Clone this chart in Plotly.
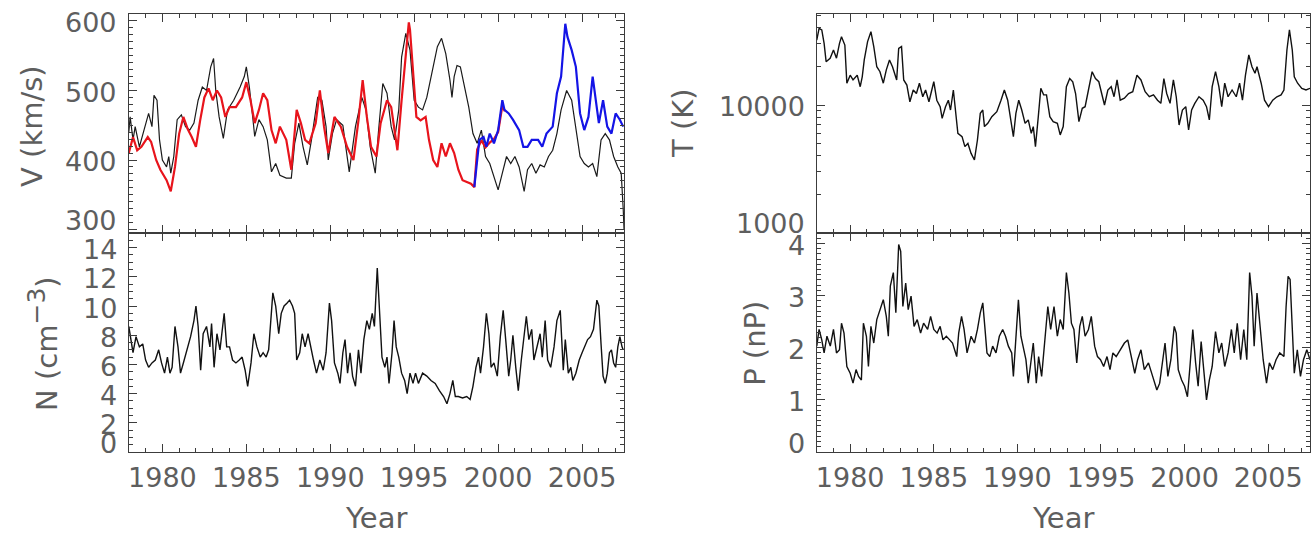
import math
import plotly.graph_objects as go

# ---------------------------------------------------------------
# Solar wind time series, 1978-2007 (year, value) pairs
# ---------------------------------------------------------------

# Solar wind speed V (km/s): black trace
v_black = [
    (1978.0, 440), (1978.08, 462), (1978.25, 429), (1978.38, 448), (1978.63, 419),
    (1979.0, 453), (1979.18, 467), (1979.38, 448), (1979.5, 493), (1979.68, 486),
    (1979.83, 429), (1980.0, 400), (1980.25, 390), (1980.38, 405), (1980.5, 381),
    (1980.68, 405), (1980.88, 458), (1981.13, 465), (1981.38, 448), (1981.63, 443),
    (1981.88, 453), (1982.13, 486), (1982.38, 505), (1982.63, 500), (1982.88, 534),
    (1983.05, 546), (1983.18, 500), (1983.38, 462), (1983.63, 431), (1983.88, 472),
    (1984.25, 486), (1984.63, 505), (1984.88, 520), (1985.0, 534), (1985.18, 505),
    (1985.38, 462), (1985.5, 434), (1985.75, 458), (1986.0, 448), (1986.25, 429),
    (1986.5, 383), (1986.75, 395), (1987.0, 378), (1987.38, 374), (1987.68, 374),
    (1987.88, 424), (1988.13, 453), (1988.38, 419), (1988.63, 393), (1988.88, 429),
    (1989.25, 490), (1989.5, 486), (1989.75, 448), (1989.88, 400), (1990.13, 438),
    (1990.38, 458), (1990.75, 450), (1991.13, 383), (1991.5, 448), (1991.88, 490),
    (1992.13, 472), (1992.38, 419), (1992.68, 381), (1992.88, 443), (1993.13, 510),
    (1993.38, 496), (1993.63, 448), (1993.83, 429), (1994.08, 472), (1994.25, 548),
    (1994.5, 582), (1994.75, 558), (1995.0, 486), (1995.25, 476), (1995.5, 472),
    (1995.75, 490), (1996.13, 534), (1996.38, 563), (1996.63, 575), (1996.88, 553),
    (1997.13, 515), (1997.25, 490), (1997.38, 520), (1997.55, 536), (1997.75, 534),
    (1998.0, 505), (1998.25, 476), (1998.5, 438), (1998.75, 424), (1999.0, 443),
    (1999.25, 405), (1999.5, 395), (1999.75, 376), (2000.0, 357), (2000.25, 381),
    (2000.5, 405), (2000.75, 395), (2001.0, 405), (2001.25, 390), (2001.55, 355),
    (2001.75, 386), (2002.0, 395), (2002.25, 381), (2002.5, 393), (2002.75, 390),
    (2003.0, 405), (2003.25, 414), (2003.5, 438), (2003.75, 472), (2004.08, 500),
    (2004.38, 486), (2004.63, 448), (2004.88, 405), (2005.13, 395), (2005.38, 390),
    (2005.63, 395), (2005.88, 376), (2006.13, 429), (2006.38, 438), (2006.63, 429),
    (2006.88, 405), (2007.13, 390), (2007.33, 381), (2007.45, 330), (2007.5, 300),
]

# Solar wind speed V (km/s): red trace
v_red = [
    (1978.0, 410), (1978.25, 433), (1978.5, 414), (1978.75, 419), (1979.13, 433),
    (1979.33, 426), (1979.63, 400), (1979.88, 386), (1980.25, 371), (1980.5, 355),
    (1980.75, 390), (1981.0, 438), (1981.25, 462), (1981.5, 445), (1981.75, 433),
    (1982.0, 419), (1982.25, 457), (1982.5, 490), (1982.75, 503), (1983.0, 486),
    (1983.25, 500), (1983.5, 490), (1983.75, 462), (1984.0, 476), (1984.38, 476),
    (1984.75, 490), (1985.0, 512), (1985.25, 486), (1985.5, 453), (1985.75, 472),
    (1986.0, 496), (1986.25, 486), (1986.5, 443), (1986.75, 424), (1987.0, 448),
    (1987.38, 429), (1987.68, 386), (1988.0, 472), (1988.25, 453), (1988.5, 429),
    (1988.75, 424), (1989.13, 453), (1989.38, 500), (1989.63, 448), (1989.88, 410),
    (1990.25, 462), (1990.63, 448), (1991.0, 419), (1991.38, 400), (1991.68, 457),
    (1991.93, 515), (1992.18, 462), (1992.43, 419), (1992.75, 405), (1993.0, 453),
    (1993.38, 486), (1993.63, 476), (1994.0, 414), (1994.25, 486), (1994.5, 553),
    (1994.68, 598), (1994.75, 587), (1994.93, 534), (1995.13, 462), (1995.38, 457),
    (1995.68, 462), (1995.88, 429), (1996.13, 400), (1996.38, 390), (1996.63, 424),
    (1996.88, 405), (1997.13, 424), (1997.38, 410), (1997.63, 386), (1997.88, 371),
    (1998.13, 368), (1998.38, 366), (1998.58, 361), (1998.75, 415), (1999.0, 428),
    (1999.25, 418), (1999.5, 425), (1999.75, 430), (2000.0, 440), (2000.25, 478),
    (2000.4, 470),
]

# Solar wind speed V (km/s): blue trace
v_blue = [
    (1998.58, 361), (1998.75, 405), (1998.88, 429), (1999.13, 433), (1999.3, 419),
    (1999.5, 438), (1999.75, 424), (2000.0, 443), (2000.25, 486), (2000.38, 472),
    (2000.63, 467), (2000.88, 458), (2001.25, 443), (2001.5, 419), (2001.75, 419),
    (2002.0, 429), (2002.38, 429), (2002.63, 419), (2002.88, 438), (2003.25, 448),
    (2003.5, 496), (2003.75, 520), (2004.0, 596), (2004.13, 577), (2004.38, 558),
    (2004.63, 534), (2004.88, 467), (2005.13, 443), (2005.38, 462), (2005.63, 520),
    (2005.83, 486), (2006.0, 453), (2006.25, 486), (2006.5, 448), (2006.75, 438),
    (2007.0, 467), (2007.25, 458), (2007.45, 448),
]

# Proton density N (cm^-3)
n_series = [
    (1978.0, 8.6), (1978.13, 7.7), (1978.25, 6.8), (1978.43, 7.9), (1978.63, 7.2),
    (1978.83, 7.4), (1979.0, 6.3), (1979.18, 5.8), (1979.38, 6.1), (1979.58, 6.3),
    (1979.78, 7.0), (1979.95, 6.1), (1980.13, 5.4), (1980.3, 6.5), (1980.45, 5.4),
    (1980.58, 5.8), (1980.75, 8.6), (1980.93, 7.2), (1981.08, 5.4), (1981.25, 6.1),
    (1981.43, 6.8), (1981.68, 7.9), (1981.88, 9.0), (1982.0, 10.0), (1982.13, 8.6),
    (1982.28, 5.6), (1982.43, 8.1), (1982.63, 8.6), (1982.83, 7.2), (1982.93, 8.8),
    (1983.08, 5.8), (1983.25, 8.1), (1983.43, 7.0), (1983.55, 8.4), (1983.68, 9.5),
    (1983.83, 7.2), (1984.0, 7.2), (1984.18, 6.3), (1984.38, 6.1), (1984.58, 6.3),
    (1984.75, 6.5), (1984.93, 5.6), (1985.08, 4.5), (1985.28, 6.1), (1985.45, 8.1),
    (1985.63, 7.2), (1985.83, 6.5), (1986.0, 6.8), (1986.18, 6.5), (1986.33, 7.0),
    (1986.45, 9.0), (1986.58, 10.9), (1986.75, 10.0), (1986.93, 8.1), (1987.08, 9.5),
    (1987.25, 10.0), (1987.43, 10.2), (1987.58, 10.4), (1987.75, 10.0), (1987.88, 9.5),
    (1988.0, 6.3), (1988.18, 6.8), (1988.33, 8.1), (1988.5, 7.2), (1988.68, 8.1),
    (1988.83, 7.2), (1989.0, 6.3), (1989.18, 5.4), (1989.38, 6.3), (1989.58, 5.6),
    (1989.75, 6.8), (1989.95, 10.2), (1990.08, 9.0), (1990.25, 6.1), (1990.45, 5.4),
    (1990.58, 4.7), (1990.75, 6.8), (1990.88, 7.7), (1991.03, 5.4), (1991.18, 6.8),
    (1991.33, 5.2), (1991.5, 4.5), (1991.68, 7.0), (1991.83, 5.4), (1992.0, 7.7),
    (1992.18, 9.0), (1992.33, 8.4), (1992.5, 9.5), (1992.63, 8.6), (1992.8, 12.6),
    (1992.95, 9.0), (1993.08, 6.5), (1993.25, 5.8), (1993.38, 6.5), (1993.5, 4.7),
    (1993.68, 6.8), (1993.8, 9.0), (1993.93, 7.2), (1994.08, 6.5), (1994.25, 5.4),
    (1994.43, 4.9), (1994.58, 4.0), (1994.75, 5.4), (1994.93, 4.7), (1995.08, 5.4),
    (1995.25, 4.7), (1995.5, 5.4), (1995.75, 5.2), (1996.0, 4.9), (1996.25, 4.7),
    (1996.5, 4.2), (1996.75, 3.8), (1996.95, 3.3), (1997.13, 4.0), (1997.3, 4.9),
    (1997.45, 3.8), (1997.63, 3.8), (1997.88, 3.7), (1998.13, 3.8), (1998.33, 3.6),
    (1998.5, 4.5), (1998.68, 5.8), (1998.83, 6.5), (1998.95, 5.4), (1999.13, 7.2),
    (1999.3, 9.5), (1999.45, 8.1), (1999.58, 5.8), (1999.75, 6.1), (1999.95, 5.2),
    (2000.13, 7.9), (2000.3, 9.7), (2000.45, 7.7), (2000.63, 5.2), (2000.75, 6.3),
    (2000.88, 8.0), (2001.05, 5.8), (2001.2, 4.2), (2001.38, 6.3), (2001.5, 7.7),
    (2001.68, 9.3), (2001.83, 7.7), (2002.0, 8.4), (2002.13, 6.3), (2002.3, 7.2),
    (2002.5, 8.1), (2002.63, 6.5), (2002.8, 9.0), (2002.95, 6.3), (2003.13, 5.8),
    (2003.33, 7.2), (2003.5, 9.0), (2003.7, 9.7), (2003.88, 5.6), (2004.0, 7.7),
    (2004.18, 5.4), (2004.33, 5.8), (2004.45, 4.9), (2004.63, 5.4), (2004.83, 6.3),
    (2005.0, 6.8), (2005.13, 7.2), (2005.33, 7.7), (2005.5, 7.9), (2005.68, 8.4),
    (2005.88, 10.4), (2006.0, 10.0), (2006.13, 7.4), (2006.25, 5.2), (2006.38, 4.7),
    (2006.5, 5.4), (2006.63, 6.8), (2006.75, 7.0), (2006.88, 6.1), (2007.0, 5.8),
    (2007.13, 7.2), (2007.25, 7.9), (2007.38, 7.2), (2007.45, 7.0),
]

# Proton temperature T (K)
t_series = [
    (1978.0, 32200), (1978.14, 39700), (1978.3, 38600), (1978.44, 30300), (1978.56, 21800),
    (1978.8, 23200), (1979.0, 26900), (1979.18, 23200), (1979.36, 30300), (1979.48, 34200),
    (1979.68, 29400), (1979.8, 14800), (1980.0, 17100), (1980.17, 15700), (1980.42, 17100),
    (1980.6, 13900), (1980.72, 16600), (1980.84, 22500), (1981.04, 31300), (1981.24, 37400),
    (1981.41, 28600), (1981.59, 19900), (1981.78, 18200), (1981.98, 14800), (1982.16, 18800),
    (1982.35, 22500), (1982.53, 19900), (1982.78, 15700), (1982.9, 27700), (1983.07, 28600),
    (1983.2, 15700), (1983.39, 14300), (1983.57, 10600), (1983.77, 13100), (1983.96, 12300),
    (1984.14, 14800), (1984.34, 11600), (1984.51, 13100), (1984.71, 10600), (1984.88, 13100),
    (1985.0, 15200), (1985.18, 10900), (1985.38, 9700), (1985.5, 7870), (1985.7, 9700),
    (1985.87, 10900), (1986.0, 9140), (1986.17, 13100), (1986.29, 9700), (1986.44, 6010),
    (1986.69, 5660), (1986.86, 4730), (1987.04, 5010), (1987.23, 4190), (1987.43, 3720),
    (1987.61, 5330), (1987.78, 8610), (1987.93, 9140), (1988.03, 6780), (1988.23, 7190),
    (1988.47, 8110), (1988.77, 8870), (1989.02, 10900), (1989.22, 13100), (1989.42, 10900),
    (1989.59, 8110), (1989.76, 5660), (1989.91, 8610), (1990.08, 10900), (1990.26, 9140),
    (1990.46, 7190), (1990.65, 7640), (1990.83, 6010), (1990.95, 6780), (1991.08, 4730),
    (1991.25, 8110), (1991.4, 13500), (1991.57, 12000), (1991.74, 12000), (1991.94, 8110),
    (1992.14, 7410), (1992.39, 7190), (1992.56, 5840), (1992.74, 6780), (1992.93, 13900),
    (1993.13, 16100), (1993.31, 15200), (1993.48, 12300), (1993.68, 7410), (1993.88, 9420),
    (1994.05, 9700), (1994.25, 13100), (1994.47, 18200), (1994.67, 16100), (1994.87, 15200),
    (1995.04, 12300), (1995.21, 10000), (1995.41, 13100), (1995.61, 13900), (1995.78, 11600),
    (1995.96, 15700), (1996.15, 10900), (1996.4, 11300), (1996.65, 12300), (1996.9, 12700),
    (1997.15, 17100), (1997.39, 15700), (1997.64, 12700), (1997.89, 11600), (1998.14, 12000),
    (1998.38, 10900), (1998.58, 10300), (1998.76, 16100), (1998.93, 12300), (1999.13, 10300),
    (1999.33, 15700), (1999.5, 11600), (1999.67, 6980), (1999.87, 9140), (2000.07, 9700),
    (2000.24, 6380), (2000.42, 9140), (2000.61, 10300), (2000.86, 11600), (2001.11, 10900),
    (2001.31, 9700), (2001.48, 7640), (2001.65, 13900), (2001.85, 18200), (2002.05, 13900),
    (2002.22, 9700), (2002.4, 14800), (2002.6, 11600), (2002.84, 13100), (2003.09, 11600),
    (2003.29, 14800), (2003.46, 10900), (2003.64, 17100), (2003.84, 24600), (2004.03, 19900),
    (2004.21, 17700), (2004.33, 19900), (2004.58, 14800), (2004.78, 10900), (2005.02, 9700),
    (2005.27, 10900), (2005.52, 11600), (2005.77, 12000), (2005.94, 13100), (2006.12, 26900),
    (2006.27, 38600), (2006.44, 26900), (2006.56, 16600), (2006.76, 14800), (2007.01, 13500),
    (2007.26, 13100), (2007.5, 13500),
]

# Dynamic pressure P (nP)
p_series = [
    (1978.0, 2.03), (1978.14, 2.35), (1978.3, 2.15), (1978.44, 1.9), (1978.61, 2.22),
    (1978.81, 2.03), (1979.0, 2.35), (1979.18, 1.9), (1979.36, 1.96), (1979.48, 2.47),
    (1979.63, 2.28), (1979.8, 1.64), (1980.0, 1.51), (1980.17, 1.32), (1980.35, 1.58),
    (1980.5, 1.45), (1980.67, 1.38), (1980.79, 2.47), (1980.97, 2.22), (1981.09, 1.64),
    (1981.24, 2.41), (1981.41, 2.09), (1981.59, 2.54), (1981.78, 2.73), (1981.98, 2.92),
    (1982.16, 2.6), (1982.28, 2.22), (1982.4, 3.18), (1982.58, 3.44), (1982.73, 2.67),
    (1982.9, 3.98), (1983.02, 3.85), (1983.15, 2.79), (1983.32, 3.24), (1983.47, 2.73),
    (1983.64, 2.99), (1983.82, 2.41), (1984.01, 2.54), (1984.21, 2.28), (1984.39, 2.47),
    (1984.63, 2.35), (1984.81, 2.6), (1985.0, 2.35), (1985.2, 2.28), (1985.38, 2.41),
    (1985.55, 2.15), (1985.75, 2.22), (1985.95, 2.15), (1986.12, 2.09), (1986.37, 1.83),
    (1986.49, 2.28), (1986.66, 2.6), (1986.81, 2.35), (1986.99, 1.9), (1987.23, 2.22),
    (1987.43, 2.09), (1987.61, 2.35), (1987.78, 2.67), (1987.93, 2.86), (1988.05, 2.41),
    (1988.18, 1.9), (1988.35, 1.83), (1988.52, 2.03), (1988.72, 1.9), (1988.92, 2.22),
    (1989.12, 2.35), (1989.29, 2.22), (1989.46, 2.03), (1989.66, 1.9), (1989.76, 1.45),
    (1989.91, 2.22), (1990.06, 2.92), (1990.21, 2.22), (1990.36, 1.96), (1990.51, 1.77),
    (1990.65, 1.32), (1990.83, 1.77), (1990.95, 2.09), (1991.13, 1.32), (1991.27, 1.83),
    (1991.45, 1.45), (1991.65, 2.15), (1991.82, 2.79), (1991.99, 2.35), (1992.19, 2.79),
    (1992.39, 2.22), (1992.56, 2.54), (1992.74, 2.35), (1992.93, 3.44), (1993.08, 3.05),
    (1993.23, 2.47), (1993.38, 2.35), (1993.55, 1.71), (1993.73, 2.41), (1993.88, 2.6),
    (1994.05, 2.22), (1994.25, 2.35), (1994.42, 2.6), (1994.62, 2.03), (1994.79, 1.83),
    (1994.97, 1.77), (1995.16, 1.64), (1995.36, 1.83), (1995.54, 1.58), (1995.71, 1.9),
    (1995.91, 1.83), (1996.15, 1.96), (1996.4, 2.09), (1996.6, 2.15), (1996.77, 1.9),
    (1997.02, 1.51), (1997.19, 1.77), (1997.39, 1.96), (1997.59, 1.58), (1997.84, 1.71),
    (1998.09, 1.45), (1998.34, 1.19), (1998.51, 1.32), (1998.68, 1.77), (1998.83, 2.09),
    (1999.0, 1.45), (1999.18, 1.77), (1999.38, 2.41), (1999.5, 2.28), (1999.62, 1.58),
    (1999.82, 1.38), (2000.0, 1.26), (2000.17, 1.06), (2000.32, 1.64), (2000.49, 2.35),
    (2000.66, 1.71), (2000.81, 1.26), (2000.99, 2.12), (2001.16, 1.51), (2001.31, 1.0),
    (2001.48, 1.38), (2001.65, 1.64), (2001.85, 2.31), (2002.05, 1.9), (2002.22, 2.09),
    (2002.4, 1.64), (2002.6, 1.9), (2002.8, 2.35), (2002.97, 1.9), (2003.15, 2.47),
    (2003.35, 1.77), (2003.54, 2.35), (2003.72, 1.77), (2003.89, 3.44), (2004.03, 2.99),
    (2004.16, 2.03), (2004.33, 3.05), (2004.51, 2.35), (2004.7, 1.77), (2004.9, 1.32),
    (2005.07, 1.71), (2005.27, 1.58), (2005.47, 1.77), (2005.69, 1.9), (2005.94, 1.83),
    (2006.07, 2.79), (2006.19, 3.37), (2006.31, 3.31), (2006.44, 2.47), (2006.56, 1.51),
    (2006.74, 1.96), (2006.93, 1.45), (2007.11, 1.77), (2007.31, 1.96), (2007.5, 1.77),
]

# Axis tick labels
x_ticks = [1980, 1985, 1990, 1995, 2000, 2005]
v_ticks = [600, 500, 400, 300]
n_ticks = [14, 12, 10, 8, 6, 4, 2, 0]
t_ticks = [10000, 1000]
p_ticks = [4, 3, 2, 1, 0]

# ---------------------------------------------------------------
# Page geometry (pixels) and styling
# ---------------------------------------------------------------
W, H = 1311, 534
FRAME = "#3c3c3c"
LABEL = "#5e5e5e"
FONT = "DejaVu Sans"
TICK_SIZE = 27
TITLE_SIZE = 29


def fx(px):
    return px / W


def fy(py):
    return 1 - py / H


LEFT_DOM = [fx(128), fx(624)]
RIGHT_DOM = [fx(817), 1.0]
TOP_DOM = [fy(233), fy(14)]
BOT_DOM = [fy(452), fy(233)]

fig = go.Figure()


def add_line(series, xa, ya, color, width):
    xs = [p[0] for p in series]
    ys = [p[1] for p in series]
    fig.add_trace(go.Scatter(x=xs, y=ys, mode="lines", xaxis=xa, yaxis=ya,
                             line=dict(color=color, width=width),
                             showlegend=False, hoverinfo="skip"))


add_line(v_black, "x", "y", "#1a1a1a", 1.2)
add_line(v_red, "x", "y", "#e8141c", 2.2)
add_line(v_blue, "x", "y", "#1414e6", 2.2)
add_line(n_series, "x2", "y2", "#111111", 1.4)
add_line(t_series, "x3", "y3", "#111111", 1.4)
add_line(p_series, "x4", "y4", "#111111", 1.4)

frame = dict(showline=True, linecolor=FRAME, linewidth=1.4, mirror="allticks",
             ticks="inside", tickcolor=FRAME, tickwidth=1, ticklen=8,
             showgrid=False, zeroline=False, fixedrange=True)


def xaxis(domain, anchor, labels):
    d = dict(frame, domain=domain, anchor=anchor, range=[1978, 2007.5],
             tickmode="array", tickvals=x_ticks,
             showticklabels=labels,
             tickfont=dict(family=FONT, size=TICK_SIZE, color=LABEL),
             ticklabelstandoff=1,
             minor=dict(ticks="inside", ticklen=4, tickcolor=FRAME, tickwidth=1,
                        dtick=1, tick0=1978, showgrid=False))
    if labels:
        d["ticktext"] = [str(t) for t in x_ticks]
    return d


def yaxis(domain, anchor, rng, dtick, minor_dtick, log=False):
    d = dict(frame, domain=domain, anchor=anchor, range=rng, showticklabels=False)
    if log:
        d.update(type="log", tickmode="array", tickvals=[1000, 10000, 100000])
        d["minor"] = dict(ticks="inside", ticklen=4, tickcolor=FRAME, tickwidth=1,
                          tickmode="array", showgrid=False,
                          tickvals=[k * 10 ** e for e in (3, 4) for k in range(2, 10)])
    else:
        d.update(tick0=0, dtick=dtick)
        d["minor"] = dict(ticks="inside", ticklen=4, tickcolor=FRAME, tickwidth=1,
                          dtick=minor_dtick, tick0=0, showgrid=False)
    return d


fig.update_layout(
    width=W, height=H,
    margin=dict(l=0, r=0, t=0, b=0),
    paper_bgcolor="white", plot_bgcolor="white",
    xaxis=xaxis(LEFT_DOM, "y", False),
    xaxis2=xaxis(LEFT_DOM, "y2", True),
    xaxis3=xaxis(RIGHT_DOM, "y3", False),
    xaxis4=xaxis(RIGHT_DOM, "y4", True),
    yaxis=yaxis(TOP_DOM, "x", [295, 610], 100, 10),
    yaxis2=yaxis(BOT_DOM, "x2", [0, 15], 2, 0.5),
    yaxis3=yaxis(TOP_DOM, "x3", [3, 4.711], None, None, log=True),
    yaxis4=yaxis(BOT_DOM, "x4", [0, 4.2], 1, 0.1),
)

annotations = []


def tick_labels(yref, frame_px, ticks, bottom_value, log=False):
    for t in ticks:
        yv = math.log10(t) if log else t
        shift = 9 if t == bottom_value else -2
        annotations.append(dict(
            x=fx(frame_px - 10), xref="paper", xanchor="right",
            y=yv, yref=yref, yanchor="middle", yshift=shift,
            text=str(t), showarrow=False,
            font=dict(family=FONT, size=TICK_SIZE, color=LABEL)))


tick_labels("y", 128, v_ticks, 300)
tick_labels("y2", 128, n_ticks, 0)
tick_labels("y3", 817, t_ticks, 1000, log=True)
tick_labels("y4", 817, p_ticks, 0)


def title(text, xp, yp, angle=0):
    annotations.append(dict(
        x=fx(xp), y=fy(yp), xref="paper", yref="paper",
        xanchor="center", yanchor="middle", textangle=angle,
        text=text, showarrow=False,
        font=dict(family=FONT, size=TITLE_SIZE, color=LABEL)))


title("V (km/s)", 31, 126, -90)
title("N (cm<sup><span style='font-size:25px'>\u22123</span></sup>)", 42, 343, -90)
title("T (K)", 683, 123, -90)
title("P (nP)", 755, 343, -90)
title("Year", 376, 518)
title("Year", 1064, 518)

fig.update_layout(annotations=annotations)

fig.write_html("out.html", config={"displayModeBar": False})
